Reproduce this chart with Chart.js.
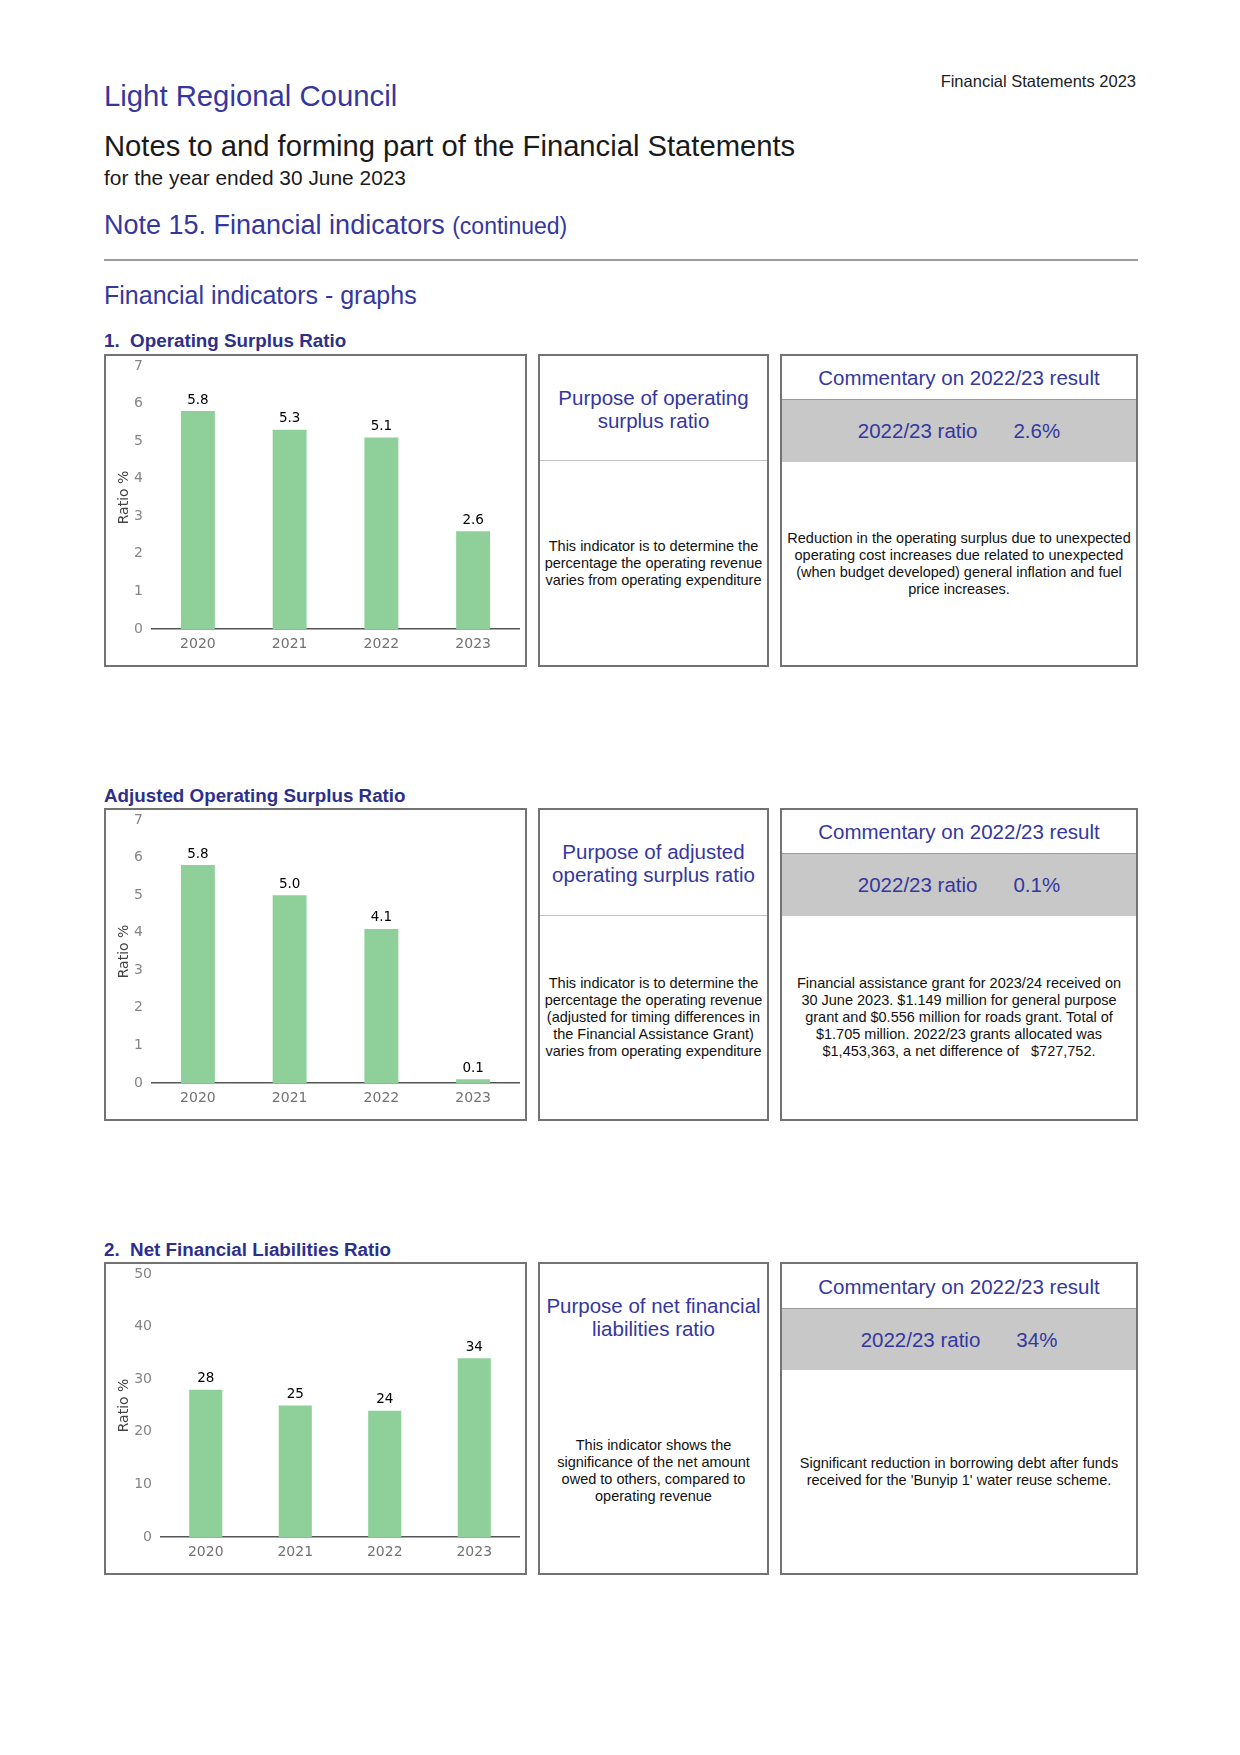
<!DOCTYPE html>
<html>
<head>
<meta charset="utf-8">
<script src="https://cdn.jsdelivr.net/npm/chart.js@4.4.0/dist/chart.umd.min.js"></script>
<style>
  body { margin: 0; background: #fff; }
  #page { position: relative; width: 1240px; height: 1755px; font-family: "Liberation Sans", Arial, sans-serif; overflow: hidden; }
  .t { position: absolute; white-space: nowrap; }
  .blue { color: #35379f; }
  .sub { font-weight: bold; font-size: 18.8px; color: #2d2f8c; }
  .box { position: absolute; box-sizing: border-box; border: 2px solid #737373; background: #fff; }
  .chartbox canvas { position: absolute; left: -2px; top: -2px; }
  .region { position: absolute; left: 0; right: 0; display: flex; align-items: center; justify-content: center; text-align: center; }
  .phead { font-size: 20.5px; line-height: 23px; color: #35379f; }
  .body { font-size: 14.5px; line-height: 17px; color: #111; white-space: nowrap; }
  .band { background: #c8c8c8; border-top: 1.5px solid #9a9a9a; box-sizing: border-box; font-size: 20.5px; color: #35379f; }
  .band span + span { margin-left: 36px; }
  .divider { position: absolute; left: 0; right: 0; height: 0; border-top: 1.5px solid #c4c4c4; }
</style>
</head>
<body>
<div id="page">
  <div class="t blue" style="left:104px; top:79px; font-size:29.3px;">Light Regional Council</div>
  <div class="t" style="right:104px; top:72px; font-size:16.5px; color:#222;">Financial Statements 2023</div>
  <div class="t" style="left:104px; top:130px; font-size:29.2px; color:#1a1a1a;">Notes to and forming part of the Financial Statements</div>
  <div class="t" style="left:104px; top:166px; font-size:20.9px; color:#1a1a1a;">for the year ended 30 June 2023</div>
  <div class="t blue" style="left:104px; top:210px; font-size:27px;">Note 15. Financial indicators <span style="font-size:23px;">(continued)</span></div>
  <div style="position:absolute; left:104px; top:259px; width:1034px; height:2px; background:#9c9c9c;"></div>
  <div class="t blue" style="left:104px; top:281px; font-size:25px;">Financial indicators - graphs</div>

  <div class="t sub" style="left:104px; top:330px;">1.&nbsp; Operating Surplus Ratio</div>
  <div class="t sub" style="left:104px; top:785px;">Adjusted Operating Surplus Ratio</div>
  <div class="t sub" style="left:104px; top:1239px;">2.&nbsp; Net Financial Liabilities Ratio</div>

  <!-- panel 1 -->
  <div class="box chartbox" style="left:104px; top:354px; width:423px; height:313px;"><canvas id="c1" width="423" height="313"></canvas></div>
  <div class="box" style="left:538px; top:354px; width:231px; height:313px;">
    <div class="region phead" style="top:0; height:105px;">Purpose of operating<br>surplus ratio</div>
    <div class="divider" style="top:104px;"></div>
    <div class="region body" style="top:105px; bottom:0;">This indicator is to determine the<br>percentage the operating revenue<br>varies from operating expenditure</div>
  </div>
  <div class="box" style="left:780px; top:354px; width:358px; height:313px;">
    <div class="region phead" style="top:0; height:43px;">Commentary on 2022/23 result</div>
    <div class="region band" style="top:43px; height:63px;"><span>2022/23 ratio</span><span>2.6%</span></div>
    <div class="region body" style="top:106px; bottom:0;">Reduction in the operating surplus due to unexpected<br>operating cost increases due related to unexpected<br>(when budget developed) general inflation and fuel<br>price increases.</div>
  </div>

  <!-- panel 2 -->
  <div class="box chartbox" style="left:104px; top:808px; width:423px; height:313px;"><canvas id="c2" width="423" height="313"></canvas></div>
  <div class="box" style="left:538px; top:808px; width:231px; height:313px;">
    <div class="region phead" style="top:0; height:105px;">Purpose of adjusted<br>operating surplus ratio</div>
    <div class="divider" style="top:105px;"></div>
    <div class="region body" style="top:105px; bottom:0;">This indicator is to determine the<br>percentage the operating revenue<br>(adjusted for timing differences in<br>the Financial Assistance Grant)<br>varies from operating expenditure</div>
  </div>
  <div class="box" style="left:780px; top:808px; width:358px; height:313px;">
    <div class="region phead" style="top:0; height:43px;">Commentary on 2022/23 result</div>
    <div class="region band" style="top:43px; height:63px;"><span>2022/23 ratio</span><span>0.1%</span></div>
    <div class="region body" style="top:106px; bottom:0;">Financial assistance grant for 2023/24 received on<br>30 June 2023. $1.149 million for general purpose<br>grant and $0.556 million for roads grant. Total of<br>$1.705 million. 2022/23 grants allocated was<br>$1,453,363, a net difference of &nbsp; $727,752.</div>
  </div>

  <!-- panel 3 -->
  <div class="box chartbox" style="left:104px; top:1262px; width:423px; height:313px;"><canvas id="c3" width="423" height="313"></canvas></div>
  <div class="box" style="left:538px; top:1262px; width:231px; height:313px;">
    <div class="region phead" style="top:0; height:105px;">Purpose of net financial<br>liabilities ratio</div>
    <div class="region body" style="top:105px; bottom:0;">This indicator shows the<br>significance of the net amount<br>owed to others, compared to<br>operating revenue</div>
  </div>
  <div class="box" style="left:780px; top:1262px; width:358px; height:313px;">
    <div class="region phead" style="top:0; height:44px;">Commentary on 2022/23 result</div>
    <div class="region band" style="top:44px; height:62px;"><span>2022/23 ratio</span><span>34%</span></div>
    <div class="region body" style="top:106px; bottom:0;">Significant reduction in borrowing debt after funds<br>received for the 'Bunyip 1' water reuse scheme.</div>
  </div>
</div>

<script>
const years = ['2020', '2021', '2022', '2023'];
const operatingSurplus = [5.8, 5.3, 5.1, 2.6];
const adjustedSurplus = [5.8, 5.0, 4.1, 0.1];
const netLiabilities = [28, 25, 24, 34];
const ratioAxisMax = 7;
const liabilityAxisMax = 50;

const barGreen = '#8fd09a';

// value above each bar
const valueLabels = {
  id: 'valueLabels',
  afterDatasetsDraw(chart, args, opts) {
    const ctx = chart.ctx;
    const meta = chart.getDatasetMeta(0);
    const values = chart.data.datasets[0].data;
    ctx.save();
    ctx.font = '13.5px "DejaVu Sans"';
    ctx.fillStyle = '#000';
    ctx.textAlign = 'center';
    ctx.textBaseline = 'middle';
    meta.data.forEach((bar, i) => {
      ctx.fillText(values[i].toFixed(opts.decimals), bar.x, bar.y - 11);
    });
    ctx.restore();
  }
};

function makeChart(id, values, max, step, decimals, axisWidth) {
  const ctx = document.getElementById(id).getContext('2d');
  return new Chart(ctx, {
    type: 'bar',
    data: {
      labels: years,
      datasets: [{
        data: values,
        backgroundColor: barGreen,
        borderWidth: 0,
        barPercentage: 0.37,
        categoryPercentage: 1
      }]
    },
    options: {
      responsive: false,
      animation: false,
      devicePixelRatio: 1,
      layout: { padding: { top: 0, right: 8, bottom: 0, left: 0 } },
      plugins: {
        legend: { display: false },
        tooltip: { enabled: false },
        valueLabels: { decimals: decimals }
      },
      scales: {
        x: {
          grid: { display: false, drawTicks: false },
          border: { display: true, color: '#555', width: 1.5 },
          ticks: { color: '#727272', padding: 7, font: { family: 'DejaVu Sans', size: 14 } },
          afterFit: (scale) => { scale.height = 38; }
        },
        y: {
          min: 0,
          max: max,
          grid: { display: false, drawTicks: false },
          border: { display: false },
          ticks: { stepSize: step, color: '#858585', padding: 9, font: { family: 'DejaVu Sans', size: 14 } },
          title: { display: true, text: 'Ratio %', color: '#444', padding: { top: 12, bottom: 0 }, font: { family: 'DejaVu Sans', size: 14 } },
          afterFit: (scale) => {
            scale.width = axisWidth;
            scale.paddingTop = 12;
            scale.paddingBottom = 0;
          }
        }
      }
    },
    plugins: [valueLabels]
  });
}

makeChart('c1', operatingSurplus, ratioAxisMax, 1, 1, 48);
makeChart('c2', adjustedSurplus, ratioAxisMax, 1, 1, 48);
makeChart('c3', netLiabilities, liabilityAxisMax, 10, 0, 57);
</script>
</body>
</html>
